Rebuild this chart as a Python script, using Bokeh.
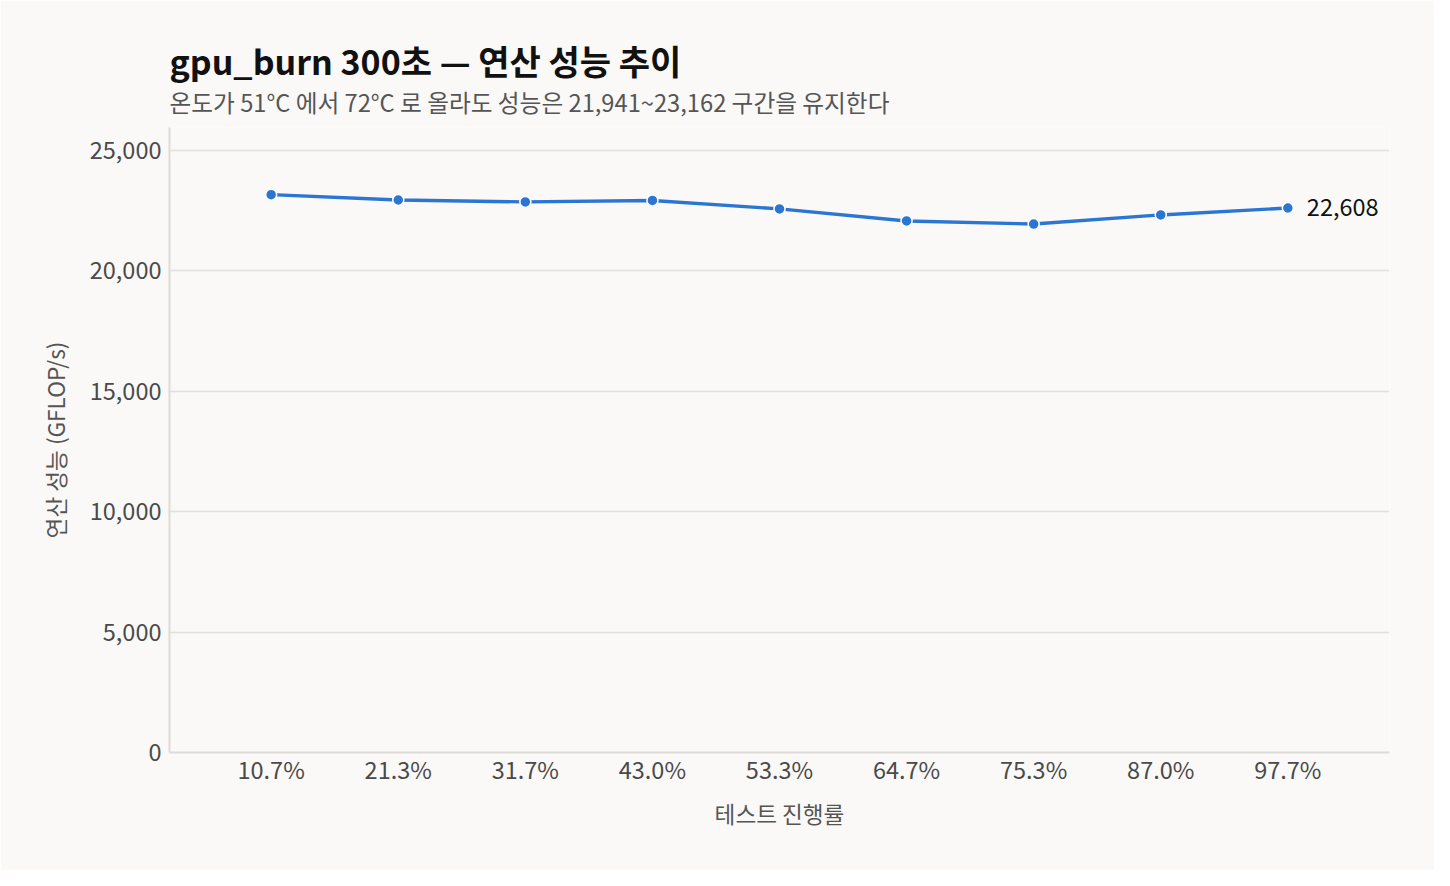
from bokeh.plotting import figure
from bokeh.models import ColumnDataSource, FixedTicker, Title, NumeralTickFormatter, Range1d
from bokeh.core.properties import value
from bokeh.embed import file_html
from bokeh.resources import INLINE

progress_labels = ["10.7%", "21.3%", "31.7%", "43.0%", "53.3%", "64.7%", "75.3%", "87.0%", "97.7%"]
gflops = [23162, 22940, 22860, 22920, 22570, 22070, 21941, 22320, 22608]
y_ticks = [0, 5000, 10000, 15000, 20000, 25000]

FONT = "Noto Sans CJK KR"
BG = "#FAF9F7"
LINE = "#2B76D2"

idx = list(range(len(progress_labels)))
src = ColumnDataSource(dict(x=idx, y=gflops, label=progress_labels))

p = figure(width=1434, height=870, output_backend="svg", toolbar_location=None,
           x_range=Range1d(-0.8, len(idx) - 1 + 0.8), y_range=Range1d(0, 25950),
           min_border_left=169, min_border_right=45, min_border_top=127, min_border_bottom=118)
p.title.text = ""
p.title.visible = False

sub = Title(text="온도가 51°C 에서 72°C 로 올라도 성능은 21,941~23,162 구간을 유지한다",
            text_font=FONT, text_font_size="23.7px", text_font_style="normal",
            text_color="#555555", align="left", standoff=17)
p.add_layout(sub, "above")
main = Title(text="gpu_burn 300초 — 연산 성능 추이", text_font=FONT, text_font_size="34px",
             text_font_style="bold", text_color="#111111", align="left", standoff=-20)
p.add_layout(main, "above")

p.background_fill_color = BG
p.border_fill_color = BG
p.outline_line_color = None

p.xgrid.grid_line_color = None
p.ygrid.grid_line_color = "#E2E0DC"
p.ygrid.grid_line_width = 1.5
p.ygrid.ticker = FixedTicker(ticks=y_ticks)

p.xaxis.ticker = FixedTicker(ticks=idx)
p.xaxis.major_label_overrides = {i: l for i, l in zip(idx, progress_labels)}
p.yaxis.ticker = FixedTicker(ticks=y_ticks)
p.yaxis.formatter = NumeralTickFormatter(format="0,0")

for ax in (p.xaxis[0], p.yaxis[0]):
    ax.axis_line_color = "#DDDBD7"
    ax.axis_line_width = 2
    ax.major_tick_line_color = None
    ax.minor_tick_line_color = None
    ax.major_tick_out = 0
    ax.major_tick_in = 0
    ax.minor_tick_out = 0
    ax.minor_tick_in = 0
    ax.major_label_text_font = FONT
    ax.major_label_text_font_size = "23.5px"
    ax.major_label_text_color = "#4A4A4A"
    ax.axis_label_text_font = FONT
    ax.axis_label_text_font_size = "22.6px"
    ax.axis_label_text_font_style = "normal"
    ax.axis_label_text_color = "#555555"

p.xaxis.axis_label = "테스트 진행률"
p.xaxis.major_label_standoff = -1
p.xaxis.axis_label_standoff = 8
p.yaxis.axis_label = "연산 성능 (GFLOP/s)"
p.yaxis.major_label_standoff = 8
p.yaxis.axis_label_standoff = 15

p.line("x", "y", source=src, line_color=LINE, line_width=3.4)
p.scatter("x", "y", source=src, size=11, fill_color=LINE, line_color="white", line_width=1.5)

end_src = ColumnDataSource(dict(x=[idx[-1]], y=[gflops[-1]], t=[f"{gflops[-1]:,}"]))
p.text("x", "y", text="t", source=end_src, x_offset=19, text_baseline="middle",
       text_font=value(FONT), text_font_size="23.5px", text_color="#111111")

open("out.html", "w").write(file_html(p, INLINE))
